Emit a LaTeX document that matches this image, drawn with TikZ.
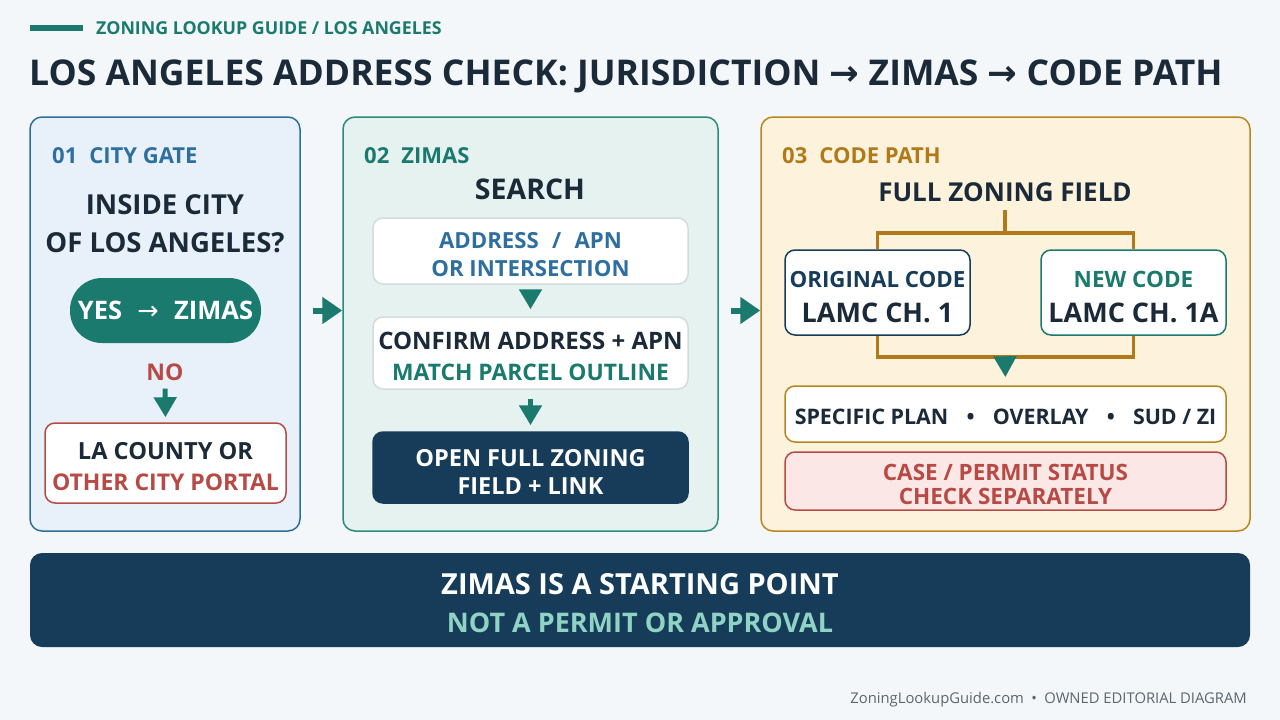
\documentclass[tikz,border=0pt]{standalone}
\usepackage{fontspec}
\setmainfont{Open Sans}
\newfontfamily\arrowfont{DejaVu Sans}
\usetikzlibrary{arrows.meta,calc}
\definecolor{cbg}{HTML}{F4F7F9}
\definecolor{cteal}{HTML}{1A7A6E}
\definecolor{cnavy}{HTML}{173C5A}
\definecolor{cdark}{HTML}{1B2A38}
\definecolor{cblue}{HTML}{2E6FA0}
\definecolor{cred}{HTML}{B84A45}
\definecolor{camber}{HTML}{B07A1A}
\definecolor{pbluefill}{HTML}{E8F1F9}
\definecolor{pblueline}{HTML}{2F6F96}
\definecolor{ptealfill}{HTML}{E5F2EF}
\definecolor{ptealline}{HTML}{2A8A7E}
\definecolor{pamberfill}{HTML}{FDF3DC}
\definecolor{pamberline}{HTML}{B8861E}
\definecolor{cgrayline}{HTML}{D3DBDF}
\definecolor{credfill}{HTML}{FBE8E6}
\definecolor{clightteal}{HTML}{8FD3C4}
\definecolor{cfoot}{HTML}{5A6670}
\newcommand\fsz[2]{\fontsize{#1}{#2}\selectfont\bfseries}
\newcommand\arr{{\arrowfont\mdseries →}}
\newcommand\bigarr{{\arrowfont\bfseries →}}
\tikzset{
  panel/.style={rectangle, rounded corners=12pt, line width=1.5pt, inner sep=0pt},
  box/.style={rectangle, rounded corners=10pt, line width=1.5pt, fill=white, inner sep=0pt},
  txt/.style={inner sep=0pt, align=center},
  lbl/.style={anchor=west, inner sep=0pt, font=\fsz{22}{26}},
  flowarrow/.style={cteal, line width=5pt, -{Triangle[length=20pt,width=22pt]}},
  bigarrow/.style={cteal, line width=6pt, -{Triangle[length=20pt,width=26pt]}},
  bracket/.style={camber, line width=3.5pt},
}
\begin{document}
\begin{tikzpicture}[x=1pt,y=-1pt]
\fill[cbg] (0,0) rectangle (1280,720);
\useasboundingbox (0,0) rectangle (1280,720);
% header
\fill[cteal] (30,25) rectangle (83,31);
\node[anchor=west, inner sep=0pt, text=cteal, font=\fsz{17.8}{22}] (sub) at (96,28) {ZONING LOOKUP GUIDE / LOS ANGELES};
\node[anchor=west, inner sep=0pt, text=cdark, font=\fsz{35.5}{42}] (title) at (29,76) {LOS ANGELES ADDRESS CHECK: JURISDICTION \bigarr{} ZIMAS \bigarr{} CODE PATH};

% panels
\node[panel, fill=pbluefill, draw=pblueline, minimum width=270, minimum height=414] (p1) at (165,324) {};
\node[panel, fill=ptealfill, draw=ptealline, minimum width=375, minimum height=414] (p2) at (530.5,324) {};
\node[panel, fill=pamberfill, draw=pamberline, minimum width=489, minimum height=414] (p3) at (1005.5,324) {};

% panel 1
\node[lbl, text=cblue] (l1) at (52,156) {01\hspace{0.55em}CITY GATE};
\node[txt, text=cdark, font=\fsz{27.5}{38}] (q1) at (165,224) {INSIDE CITY\\OF LOS ANGELES?};
\node[rectangle, rounded corners=32pt, fill=cteal, minimum width=191, minimum height=65, inner sep=0pt, text=white, font=\fsz{25.5}{30}] (yes) at (165.5,310.5) {YES\hspace{0.6em}\arr\hspace{0.6em}ZIMAS};
\node[txt, text=cred, font=\fsz{23}{28}] (no) at (165,372) {NO};
\node[box, draw=cred, minimum width=241, minimum height=80] (county) at (165.5,463) {};
\node[txt, font=\fsz{23}{31}] (countyt) at ([yshift=-4pt]county.center) {\textcolor{cdark}{\fontsize{23.6}{31}\selectfont LA COUNTY OR}\\\textcolor{cred}{OTHER CITY PORTAL}};
\draw[flowarrow, shorten <=8pt, shorten >=5pt] (no.south) -- (county.north);

% panel 2
\node[lbl, text=cteal] (l2) at (364,156) {02\hspace{0.55em}ZIMAS};
\node[txt, text=cdark, font=\fsz{28.5}{32}] (search) at (530,189) {SEARCH};
\node[box, draw=cgrayline, minimum width=315, minimum height=66] (addr) at (530.5,251) {};
\node[txt, font=\fsz{22.2}{28}, text=cblue] (addrt) at ([yshift=-4pt]addr.center) {ADDRESS\hspace{0.6em}/\hspace{0.6em}APN\\OR INTERSECTION};
\node[box, draw=cgrayline, minimum width=315, minimum height=72] (confirm) at (530.5,353) {};
\node[txt, font=\fsz{22.8}{31}] (confirmt) at ([yshift=-3.5pt]confirm.center) {\textcolor{cdark}{\fontsize{24}{31}\selectfont CONFIRM ADDRESS + APN}\\\textcolor{cteal}{MATCH PARCEL OUTLINE}};
\node[box, draw=cnavy, fill=cnavy, minimum width=315, minimum height=71] (open) at (530.5,467.5) {};
\node[txt, font=\fsz{23.5}{28}, text=white] (opent) at ([yshift=-4pt]open.center) {OPEN FULL ZONING\\FIELD + LINK};
\draw[flowarrow, shorten <=6pt, shorten >=7pt] (addr.south) -- (confirm.north);
\draw[flowarrow, shorten <=9pt, shorten >=6pt] (confirm.south) -- (open.north);

% panel 3
\node[lbl, text=camber] (l3) at (782,156) {03\hspace{0.55em}CODE PATH};
\node[txt, text=cdark, font=\fsz{26}{32}] (fzf) at (1005,192) {FULL ZONING FIELD};
\node[box, draw=cnavy, minimum width=185, minimum height=85] (orig) at (877.5,292.5) {};
\node[txt, font=\fsz{22.3}{35}] (origt) at ([yshift=-4.5pt]orig.center) {\textcolor{cnavy}{ORIGINAL CODE}\\\textcolor{cdark}{\fontsize{27}{32}\selectfont LAMC CH. 1}};
\node[box, draw=cteal, minimum width=185, minimum height=85] (new) at (1133.5,292.5) {};
\node[txt, font=\fsz{22.5}{35}] (newt) at ([yshift=-4.5pt]new.center) {\textcolor{cteal}{NEW CODE}\\\textcolor{cdark}{\fontsize{27}{32}\selectfont LAMC CH. 1A}};
\node[box, draw=pamberline, minimum width=441, minimum height=56] (spec) at (1005.5,414) {};
\node[txt, font=\fsz{21.4}{26}, text=cdark] (spect) at ([yshift=-2.5pt]spec.center) {SPECIFIC PLAN\hspace{0.85em}•\hspace{0.85em}OVERLAY\hspace{0.85em}•\hspace{0.85em}SUD / ZI};
\node[box, draw=cred, fill=credfill, minimum width=441, minimum height=58] (case) at (1005.5,481) {};
\node[txt, font=\fsz{22.5}{24}, text=cred] (caset) at ([yshift=-3.5pt]case.center) {CASE / PERMIT STATUS\\CHECK SEPARATELY};
\coordinate (top) at (1005,233);
\coordinate (bot) at (1005,357);
\draw[bracket] ([yshift=-8pt]fzf.south) -- (top);
\draw[bracket] (orig.north) -- (orig.north |- top) -- (new.north |- top) -- (new.north);
\draw[bracket] (orig.south) -- (orig.south |- bot) -- (new.south |- bot) -- (new.south);
\draw[cteal, line width=5pt, -{Triangle[length=21pt,width=22pt]}, shorten >=8pt] (bot) -- (spec.north);

% panel connectors
\draw[bigarrow, shorten <=12pt] (p1.east |- yes) -- (p2.west |- yes);
\draw[bigarrow, shorten <=12pt] (p2.east |- yes) -- (p3.west |- yes);

% banner
\node[rectangle, rounded corners=12pt, fill=cnavy, minimum width=1220, minimum height=94, inner sep=0pt] (banner) at (640,600) {};
\node[txt, font=\fsz{29}{38}] (bannert) at ([yshift=-3pt]banner.center) {\textcolor{white}{ZIMAS IS A STARTING POINT}\\\textcolor{clightteal}{\fontsize{27}{30}\selectfont NOT A PERMIT OR APPROVAL}};

% footer
\node[anchor=east, inner sep=0pt, text=cfoot, font=\fontsize{14.8}{18}\selectfont] (foot) at (1247,700) {ZoningLookupGuide.com\hspace{0.5em}•\hspace{0.5em}OWNED EDITORIAL DIAGRAM};
\end{tikzpicture}
\end{document}
